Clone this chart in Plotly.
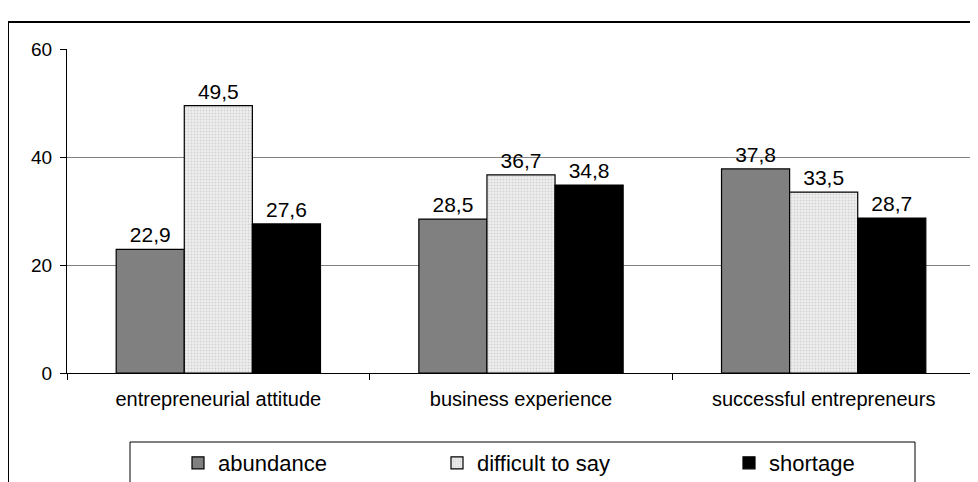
import plotly.graph_objects as go

categories = ["entrepreneurial attitude", "business experience", "successful entrepreneurs"]
abundance = [22.9, 28.5, 37.8]
difficult = [49.5, 36.7, 33.5]
shortage = [27.6, 34.8, 28.7]
y_ticks = [0, 20, 40, 60]

W, H = 978, 482
OFF = 8  # page body margin offset
# target pixel positions (in the screenshot)
PL, PR, PT, PB = 67, 975, 49, 373
L = PL - OFF
R = W - (PR - OFF)
T = PT - OFF
B = H - (PB - OFF)
pw, ph = W - L - R, H - T - B

def px_x(p):
    return (p - PL) / pw

def px_y(p):
    return (PB - p) / ph

FONT = "Arial, Liberation Sans, sans-serif"
label_font = dict(family=FONT, size=21, color="black")

fig = go.Figure()
fig.add_trace(go.Bar(
    name="abundance", x=categories, y=abundance, legend="legend",
    marker=dict(color="#808080", line=dict(color="black", width=1.2)),
    texttemplate="%{y:.1f}", textposition="outside", textfont=label_font,
    cliponaxis=False,
))
fig.add_trace(go.Bar(
    name="difficult to say", x=categories, y=difficult, legend="legend2",
    marker=dict(color="#ececec", line=dict(color="black", width=1.2),
                pattern=dict(shape=".", fgcolor="#b4b4b4", bgcolor="#eeeeee",
                             size=3, solidity=0.3)),
    texttemplate="%{y:.1f}", textposition="outside", textfont=label_font,
    cliponaxis=False,
))
fig.add_trace(go.Bar(
    name="shortage", x=categories, y=shortage, legend="legend3",
    marker=dict(color="black", line=dict(color="black", width=1.2)),
    texttemplate="%{y:.1f}", textposition="outside", textfont=label_font,
    cliponaxis=False,
))

# outer frame and legend box
fig.add_shape(type="rect", xref="paper", yref="paper",
              x0=px_x(8), x1=px_x(1000), y0=px_y(510), y1=px_y(22),
              line=dict(color="black", width=2), fillcolor="rgba(0,0,0,0)", layer="below")
fig.add_shape(type="rect", xref="paper", yref="paper",
              x0=px_x(130), x1=px_x(915), y0=px_y(510), y1=px_y(442),
              line=dict(color="black", width=1), fillcolor="white", layer="below")

leg_common = dict(yanchor="top", xanchor="left", y=px_y(442),
                  font=dict(family=FONT, size=22, color="black"),
                  bgcolor="rgba(0,0,0,0)", borderwidth=0, itemwidth=30)

fig.update_layout(
    width=W, height=H,
    margin=dict(l=L, r=R, t=T, b=B, pad=0, autoexpand=False),
    paper_bgcolor="white", plot_bgcolor="white",
    separators=", ",
    barmode="group", bargap=0.325, bargroupgap=0,
    font=dict(family=FONT, color="black"),
    showlegend=True,
    legend=dict(x=px_x(178), **leg_common),
    legend2=dict(x=px_x(437), **leg_common),
    legend3=dict(x=px_x(729), **leg_common),
    xaxis=dict(showline=True, linecolor="black", linewidth=1,
               ticks="outside", tickson="boundaries", ticklen=6, tickcolor="black",
               tickfont=dict(family=FONT, size=20, color="black"),
               ticklabelstandoff=8,
               showgrid=False, zeroline=False, fixedrange=True),
    yaxis=dict(range=[0, 60], tickvals=y_ticks, showline=True, linecolor="black", linewidth=1,
               ticks="outside", ticklen=6, tickcolor="black",
               tickfont=dict(family=FONT, size=19, color="black"),
               ticklabelstandoff=4,
               showgrid=True, gridcolor="#808080", gridwidth=1,
               zeroline=False, fixedrange=True),
)

fig.write_html("out.html")
